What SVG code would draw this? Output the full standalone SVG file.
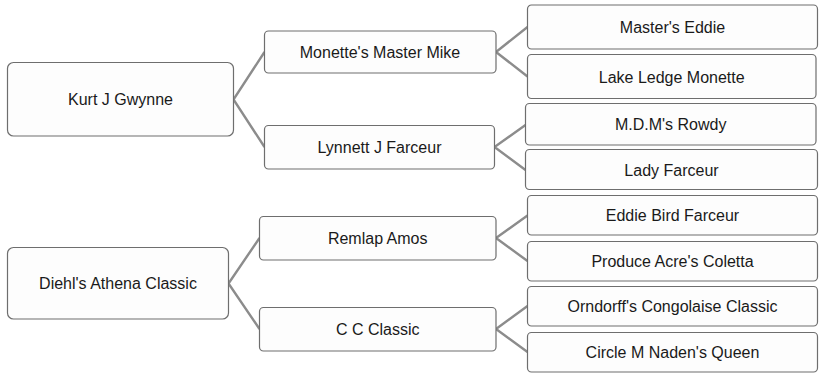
<svg xmlns="http://www.w3.org/2000/svg" width="819" height="373" viewBox="0 0 819 373">
<style>
.box{fill:#fdfdfd;stroke:#6e6e6e;stroke-width:1.2}
.lbl{font-family:"Liberation Sans",Arial,sans-serif;font-size:16px;fill:#1a1a1a;text-anchor:middle}
.con{stroke:#8c8c8c;stroke-width:2.4;fill:none}
</style>
<rect width="819" height="373" fill="#ffffff"/>
<g id="connectors">
<polyline class="con" points="264.5,52 233.5,99.5 264.5,147"/>
<polyline class="con" points="527.5,27 496,52 527.5,76.5"/>
<polyline class="con" points="525.5,125 494.5,147 525.5,170"/>
<polyline class="con" points="259.5,238 228.5,283.5 259.5,329"/>
<polyline class="con" points="527.5,215.5 496,238 527.5,261"/>
<polyline class="con" points="527.5,306 496,329 527.5,352"/>
</g>
<g id="kurt"><rect class="box" x="7.5" y="62.5" width="226" height="73.5" rx="6"/><text class="lbl" x="120.5" y="105">Kurt J Gwynne</text></g>
<g id="monette"><rect class="box" x="264.5" y="31" width="231.5" height="42" rx="4"/><text class="lbl" x="380" y="57.5">Monette's Master Mike</text></g>
<g id="lynnett"><rect class="box" x="264.5" y="125.5" width="230" height="43.5" rx="4"/><text class="lbl" x="379.5" y="153">Lynnett J Farceur</text></g>
<g id="masters_eddie"><rect class="box" x="527.5" y="5" width="290" height="44" rx="4"/><text class="lbl" x="672.5" y="33">Master's Eddie</text></g>
<g id="lake_ledge"><rect class="box" x="527.5" y="54.5" width="288.5" height="44" rx="4"/><text class="lbl" x="671.7" y="82.5">Lake Ledge Monette</text></g>
<g id="mdm"><rect class="box" x="525.5" y="103.5" width="290.5" height="41.5" rx="4"/><text class="lbl" x="670.7" y="130">M.D.M's Rowdy</text></g>
<g id="lady_farceur"><rect class="box" x="525.5" y="149.5" width="292" height="40" rx="4"/><text class="lbl" x="671.5" y="175.5">Lady Farceur</text></g>
<g id="diehl"><rect class="box" x="7.5" y="247.5" width="221" height="71.5" rx="6"/><text class="lbl" x="118" y="289">Diehl's Athena Classic</text></g>
<g id="remlap"><rect class="box" x="259.5" y="216.5" width="236.5" height="43.5" rx="4"/><text class="lbl" x="377.7" y="244">Remlap Amos</text></g>
<g id="cc_classic"><rect class="box" x="259.5" y="307.5" width="236.5" height="43.5" rx="4"/><text class="lbl" x="377.7" y="335">C C Classic</text></g>
<g id="eddie_bird"><rect class="box" x="527.5" y="195.5" width="290" height="39.5" rx="4"/><text class="lbl" x="672.5" y="221">Eddie Bird Farceur</text></g>
<g id="produce"><rect class="box" x="527.5" y="241.5" width="290" height="39.5" rx="4"/><text class="lbl" x="672.5" y="267">Produce Acre's Coletta</text></g>
<g id="orndorff"><rect class="box" x="527.5" y="286.5" width="290" height="39.5" rx="4"/><text class="lbl" x="672.5" y="312">Orndorff's Congolaise Classic</text></g>
<g id="circle"><rect class="box" x="527.5" y="332.5" width="290" height="39.5" rx="4"/><text class="lbl" x="672.5" y="358">Circle M Naden's Queen</text></g>
</svg>
